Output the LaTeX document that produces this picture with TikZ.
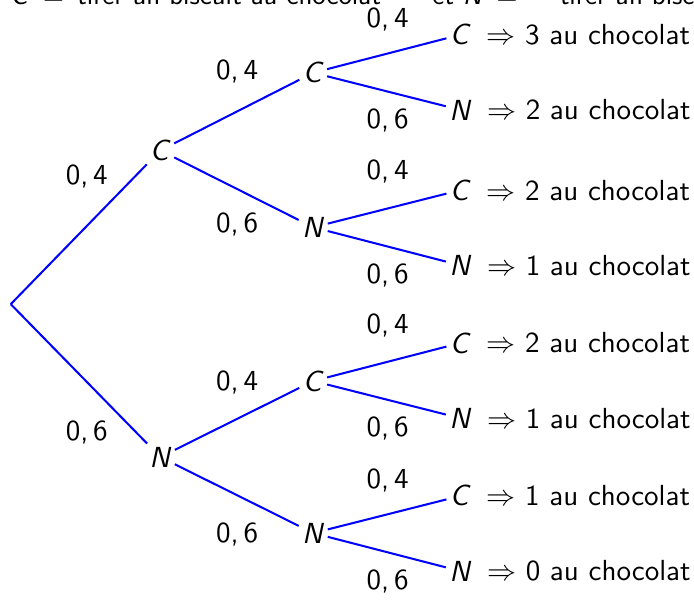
\documentclass[tikz,border=0pt]{standalone}
\usepackage{tikz}
\usetikzlibrary{positioning}
\definecolor{branchblue}{RGB}{0,0,255}

\begin{document}
\begin{tikzpicture}[
    font=\sffamily,
    event/.style={inner sep=1pt},
    prob/.style={inner sep=0pt},
    result/.style={inner sep=1pt, anchor=west},
    branch/.style={branchblue, line width=0.7pt}
]
    \clip (0,0) rectangle (8.397,-7.26);

    % heading (cut off at the top)
    \node[anchor=base west, inner sep=0pt, font=\sffamily\small] (title) at (0.12,-0.05)
        {\textsl{C} \,=\, tirer un biscuit au chocolat \quad\; et \textsl{N} \,=\; \quad tirer un biscuit nature};

    % tree nodes
    \coordinate (root) at (0.13,-3.68);
    \node[event] (c) at (1.94,-1.82) {\textsl{C}};
    \node[event] (n) at (1.94,-5.53) {\textsl{N}};

    \node[event] (cc) at (3.79,-0.88) {\textsl{C}};
    \node[event] (cn) at (3.79,-2.75) {\textsl{N}};
    \node[event] (nc) at (3.79,-4.61) {\textsl{C}};
    \node[event] (nn) at (3.79,-6.45) {\textsl{N}};

    \node[event] (ccc) at (5.57,-0.42) {\textsl{C}};
    \node[event] (ccn) at (5.57,-1.33) {\textsl{N}};
    \node[event] (cnc) at (5.57,-2.30) {\textsl{C}};
    \node[event] (cnn) at (5.57,-3.21) {\textsl{N}};
    \node[event] (ncc) at (5.57,-4.15) {\textsl{C}};
    \node[event] (ncn) at (5.57,-5.06) {\textsl{N}};
    \node[event] (nnc) at (5.57,-6.00) {\textsl{C}};
    \node[event] (nnn) at (5.57,-6.91) {\textsl{N}};

    % results
    \node[result, right=3pt of ccc] (rccc) {$\Rightarrow$ 3 au chocolat};
    \node[result, right=3pt of ccn] (rccn) {$\Rightarrow$ 2 au chocolat};
    \node[result, right=3pt of cnc] (rcnc) {$\Rightarrow$ 2 au chocolat};
    \node[result, right=3pt of cnn] (rcnn) {$\Rightarrow$ 1 au chocolat};
    \node[result, right=3pt of ncc] (rncc) {$\Rightarrow$ 2 au chocolat};
    \node[result, right=3pt of ncn] (rncn) {$\Rightarrow$ 1 au chocolat};
    \node[result, right=3pt of nnc] (rnnc) {$\Rightarrow$ 1 au chocolat};
    \node[result, right=3pt of nnn] (rnnn) {$\Rightarrow$ 0 au chocolat};

    % branches
    \draw[branch] (root) -- (c);
    \draw[branch] (root) -- (n);
    \draw[branch] (c) -- (cc);
    \draw[branch] (c) -- (cn);
    \draw[branch] (n) -- (nc);
    \draw[branch] (n) -- (nn);
    \draw[branch] (cc) -- (ccc);
    \draw[branch] (cc) -- (ccn);
    \draw[branch] (cn) -- (cnc);
    \draw[branch] (cn) -- (cnn);
    \draw[branch] (nc) -- (ncc);
    \draw[branch] (nc) -- (ncn);
    \draw[branch] (nn) -- (nnc);
    \draw[branch] (nn) -- (nnn);

    % probabilities
    \node[prob] (p1) at (1.05,-2.14) {0,\,4};
    \node[prob] (p2) at (1.05,-5.23) {0,\,6};
    \node[prob] (p3) at (2.87,-0.87) {0,\,4};
    \node[prob] (p4) at (2.87,-2.72) {0,\,6};
    \node[prob] (p5) at (2.87,-4.63) {0,\,4};
    \node[prob] (p6) at (2.87,-6.47) {0,\,6};
    \node[prob] (p7) at (4.69,-0.24) {0,\,4};
    \node[prob] (p8) at (4.69,-1.46) {0,\,6};
    \node[prob] (p9) at (4.69,-2.08) {0,\,4};
    \node[prob] (p10) at (4.69,-3.33) {0,\,6};
    \node[prob] (p11) at (4.69,-3.94) {0,\,4};
    \node[prob] (p12) at (4.69,-5.18) {0,\,6};
    \node[prob] (p13) at (4.69,-5.81) {0,\,4};
    \node[prob] (p14) at (4.69,-7.04) {0,\,6};
\end{tikzpicture}
\end{document}
